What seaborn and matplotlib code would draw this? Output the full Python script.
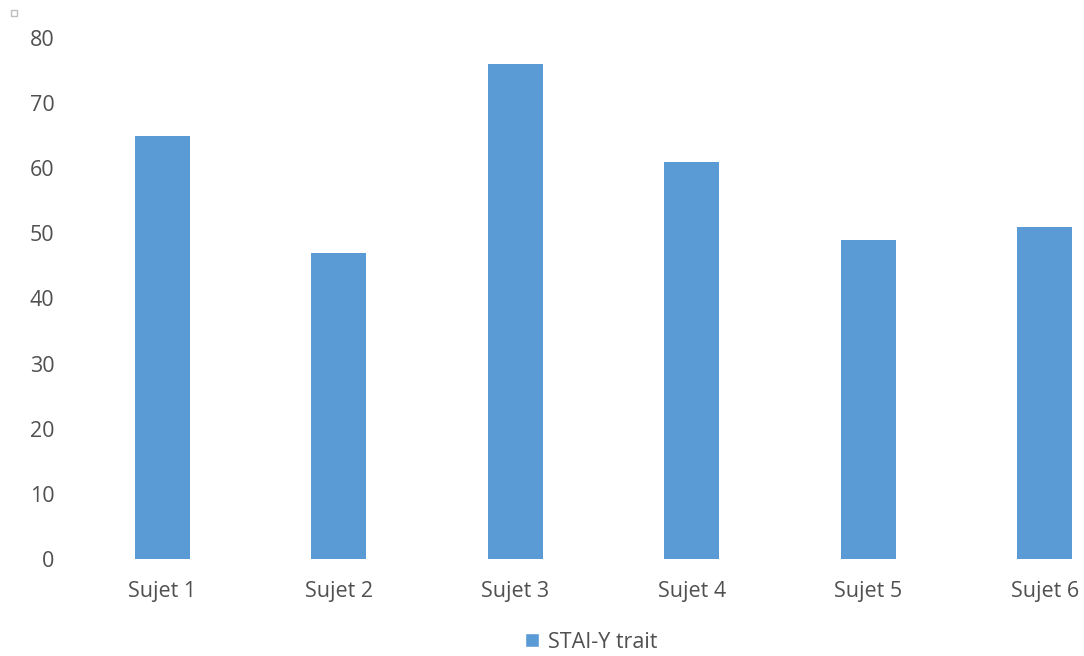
import matplotlib
matplotlib.use("Agg")
import matplotlib.pyplot as plt
import seaborn as sns
import pandas as pd
from matplotlib.patches import Rectangle

categories = ["Sujet 1", "Sujet 2", "Sujet 3", "Sujet 4", "Sujet 5", "Sujet 6"]
values = [65, 47, 76, 61, 49, 51]
series_name = "STAI-Y trait"
yticks = [0, 10, 20, 30, 40, 50, 60, 70, 80]

df = pd.DataFrame({"cat": categories, "val": values, "series": series_name})

sns.set_theme(style="white")
plt.rcParams["font.family"] = ["Open Sans", "DejaVu Sans"]

W, H = 1084, 656
fig = plt.figure(figsize=(W / 100, H / 100), dpi=100)
left, right = 74, 1133
bottom, top = 559, 38
ax = fig.add_axes([left / W, (H - bottom) / H, (right - left) / W, (bottom - top) / H])

color = "#5B9BD5"
sns.barplot(data=df, x="cat", y="val", hue="series", palette=[color], width=0.31,
            ax=ax, legend=False, saturation=1, linewidth=0)

ax.set_ylim(0, 80)
ax.set_yticks(yticks)
ax.set_xlim(-0.5, 5.5)
ax.set_xlabel("")
ax.set_ylabel("")
for s in ax.spines.values():
    s.set_visible(False)
txt = "#505050"
fs = 15.5
ax.tick_params(axis="y", length=0, labelsize=fs, labelcolor=txt, pad=14, left=False)
ax.tick_params(axis="x", length=0, labelsize=fs, labelcolor=txt, pad=16)
ax.grid(False)

# legend
handle = Rectangle((0, 0), 1, 1, facecolor=color)
fig.legend([handle], [series_name], loc="center", bbox_to_anchor=(591 / W, 1 - 642 / H),
           frameon=False, fontsize=fs, handlelength=0.65, handleheight=0.65, handletextpad=0.4,
           labelcolor=txt)

# small decoration at top-left
fig.patches.append(Rectangle((11 / W, 1 - 16 / H), 6 / W, 6 / H, transform=fig.transFigure,
                             facecolor="white", edgecolor="#BFBFBF", linewidth=1))

fig.savefig("out.png", dpi=100)
